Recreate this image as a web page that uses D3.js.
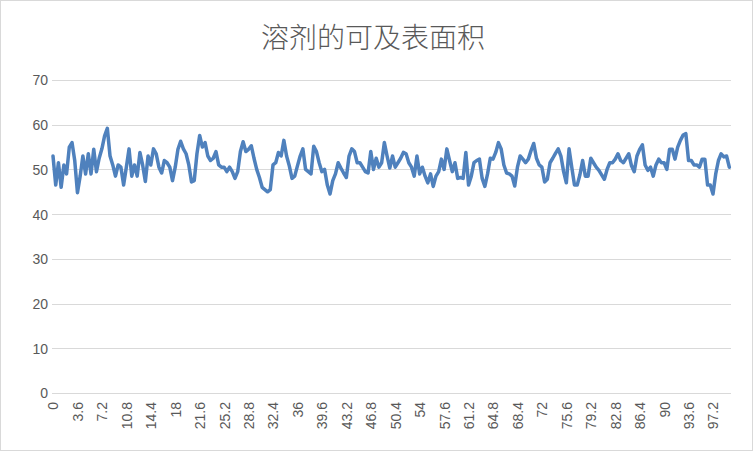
<!DOCTYPE html>
<html>
<head>
<meta charset="utf-8">
<script src="https://cdn.jsdelivr.net/npm/d3@7/dist/d3.min.js"></script>
<style>
  html, body { margin: 0; padding: 0; background: #fff; }
  svg { display: block; }
</style>
</head>
<body>
<div id="chart"></div>
<script>
// ---- data ----
const chartTitle = "溶剂的可及表面积";
const timeStep = 0.4;
const sasaValues = [
  53, 46.5, 51.5, 46, 51, 49, 55, 56, 52, 44.8,
  48.5, 53, 49, 53.5, 49, 54.5, 49.5, 52.5, 54.6, 57.5,
  59.2, 53, 51, 48.5, 51, 50.5, 46.5, 50.5, 54.6, 48.5,
  51, 48.5, 53.8, 51, 47.3, 53, 51, 54.6, 53.5, 50.5,
  49.2, 52, 51.5, 50.5, 47.5, 50.5, 54.5, 56.3, 54.6, 53.5,
  51, 47.2, 47.5, 53.5, 57.6, 55, 56, 53, 52, 52.5,
  54, 51, 50.5, 50.5, 49.5, 50.5, 49.5, 48, 49.5, 54,
  56.2, 54, 54.5, 55.3, 52.5, 50, 48.2, 46, 45.5, 45,
  45.5, 51, 51.5, 53.8, 53, 56.5, 53, 50.8, 48, 48.5,
  50.8, 53, 54.6, 50, 49.5, 49, 55.2, 54, 51.5, 49.5,
  50, 46.5, 44.5, 47.5, 49, 51.5, 50.3, 49.2, 48.2, 53,
  54.6, 54, 51.5, 51.5, 50.5, 49.5, 49.2, 54, 50, 52.5,
  50.5, 51.5, 56, 53, 50.3, 53, 50.5, 51.5, 52.5, 53.8,
  53.5, 51.5, 50.5, 48.5, 53, 49, 50.5, 48.5, 47, 49,
  46.2, 48.5, 49.5, 52.3, 50, 54.6, 52, 49.5, 51.5, 48,
  48.2, 48, 53.8, 46.5, 48.5, 51.5, 52, 52.3, 48, 46.2,
  49, 52.5, 52.3, 53.8, 56, 54.6, 51, 49.2, 49, 48.5,
  46.3, 50.5, 53, 52.3, 51.5, 52.3, 54.2, 55.8, 52.5, 51,
  50.5, 47.2, 47.8, 51.5, 52.5, 53.6, 54.6, 53, 49.5, 47,
  54.6, 50.5, 46.5, 46.5, 48.8, 52, 48.5, 48.5, 52.5, 51.5,
  50.5, 49.8, 48.8, 47.8, 50, 51.5, 51.5, 52.3, 53.5, 52,
  51.5, 52.5, 53.5, 50.8, 49.5, 53, 54.5, 55.5, 51, 49.8,
  50.5, 48.5, 51, 52.3, 51.5, 51.5, 50, 54.5, 54.5, 52.3,
  55, 56.5, 57.7, 58, 52, 52, 51, 51, 50.5, 52.3,
  52.3, 46.5, 46.5, 44.5, 49, 52, 53.5, 52.8, 53, 50.5
];
const yTicks = [0, 10, 20, 30, 40, 50, 60, 70];
const xTickLabels = ["0","3.6","7.2","10.8","14.4","18","21.6","25.2","28.8","32.4","36","39.6","43.2","46.8","50.4","54","57.6","61.2","64.8","68.4","72","75.6","79.2","82.8","86.4","90","93.6","97.2"];

// ---- layout ----
const W = 753, H = 451;
const plotLeft = 52, plotRight = 731, plotTop = 80, plotBottom = 393;

const svg = d3.select("#chart").append("svg")
  .attr("width", W).attr("height", H);

svg.append("rect")
  .attr("x", 0.5).attr("y", 0.5).attr("width", W - 1).attr("height", H - 1)
  .attr("fill", "#fff").attr("stroke", "#d9d9d9");

const points = sasaValues.map((v, i) => ({ t: i * timeStep, v }));
const tMax = (sasaValues.length - 1) * timeStep;

const x = d3.scaleLinear().domain([0, tMax]).range([53, 729.3]);
const y = d3.scaleLinear().domain([0, 70]).range([plotBottom, plotTop]);

// gridlines
svg.append("g")
  .selectAll("line")
  .data(yTicks)
  .join("line")
  .attr("x1", plotLeft).attr("x2", plotRight)
  .attr("y1", d => Math.round(y(d)) + 0.5)
  .attr("y2", d => Math.round(y(d)) + 0.5)
  .attr("stroke", "#d9d9d9").attr("stroke-width", 1);

// y axis labels
const yAxis = d3.axisLeft(y).tickValues(yTicks).tickSize(0).tickPadding(0);
const gy = svg.append("g").attr("transform", `translate(${plotLeft - 4},0)`).call(yAxis);
gy.select(".domain").remove();
gy.selectAll("text")
  .attr("fill", "#595959")
  .style("font-family", "'Liberation Sans', Arial, sans-serif")
  .style("font-size", "14px")
  .attr("dy", "0.35em");

// x axis labels
const xTickVals = xTickLabels.map(s => +s);
const xAxis = d3.axisBottom(x).tickValues(xTickVals)
  .tickFormat((d, i) => xTickLabels[i]).tickSize(0).tickPadding(0);
const gx = svg.append("g").attr("transform", `translate(0,${plotBottom})`).call(xAxis);
gx.select(".domain").remove();
gx.selectAll("text")
  .attr("fill", "#595959")
  .style("font-family", "'Liberation Sans', Arial, sans-serif")
  .style("font-size", "14px")
  .attr("text-anchor", "end")
  .attr("transform", "rotate(-90)")
  .attr("x", -9)
  .attr("y", 0)
  .attr("dy", "0.35em");

// line
const line = d3.line().x(d => x(d.t)).y(d => y(d.v));
svg.append("path")
  .datum(points)
  .attr("d", line)
  .attr("fill", "none")
  .attr("stroke", "#4f81bd")
  .attr("stroke-width", 3.5)
  .attr("stroke-linejoin", "round")
  .attr("stroke-linecap", "round");

// title
svg.append("text")
  .attr("x", 373).attr("y", 48)
  .attr("text-anchor", "middle")
  .attr("fill", "#595959")
  .style("font-family", "'Noto Sans CJK SC', sans-serif")
  .style("font-size", "28px")
  .style("font-weight", "300")
  .text(chartTitle);
</script>
</body>
</html>
